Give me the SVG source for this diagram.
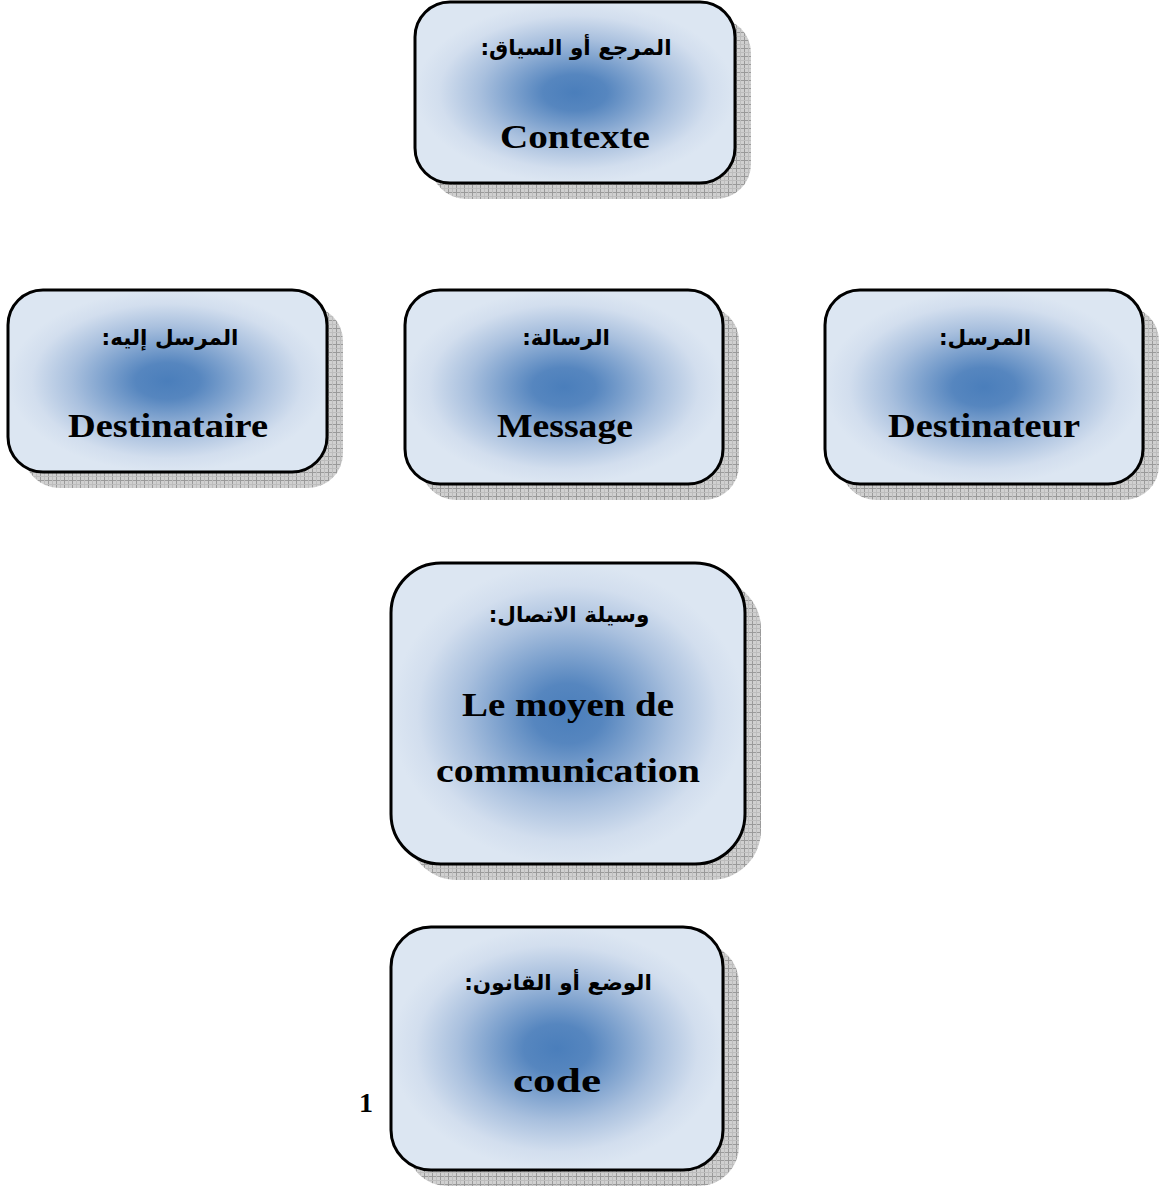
<svg xmlns="http://www.w3.org/2000/svg" width="1162" height="1187" viewBox="0 0 1162 1187">
<defs>
<pattern id="grid" width="8" height="8" patternUnits="userSpaceOnUse">
<rect width="8" height="8" fill="#d0d0d0"/>
<path d="M0 0.5H8M0.5 0V8" stroke="#9a9a9a" stroke-width="1"/>
<path d="M0 4.5H8M4.5 0V8" stroke="#bdbdbd" stroke-width="1"/>
</pattern>
<radialGradient id="fill" cx="0.5" cy="0.5" r="0.5">
<stop offset="0" stop-color="#4a7ebb"/>
<stop offset="0.2" stop-color="#5686bf"/>
<stop offset="0.6" stop-color="#a9c0de"/>
<stop offset="0.85" stop-color="#d2deee"/>
<stop offset="1" stop-color="#dce6f2"/>
</radialGradient>
</defs>
<style>
.sh{fill:url(#grid)}
.bx{fill:url(#fill);stroke:#000;stroke-width:3}
.ar{font-family:"DejaVu Sans",sans-serif;font-weight:bold;font-size:21.5px;fill:#000;text-anchor:middle}
.la{font-family:"Liberation Serif",serif;font-weight:bold;font-size:34px;fill:#000;text-anchor:middle}
</style>
<rect width="1162" height="1187" fill="#fff"/>
<g id="contexte">
<rect class="sh" x="431" y="18" width="320" height="181" rx="35"/>
<rect class="bx" x="415" y="2" width="320" height="181" rx="35"/>
<text class="ar" x="576" y="55" direction="rtl">المرجع أو السياق:</text>
<text class="la" x="575" y="148" textLength="150" lengthAdjust="spacingAndGlyphs">Contexte</text>
</g>
<g id="destinataire">
<rect class="sh" x="24" y="306" width="319" height="182" rx="35"/>
<rect class="bx" x="8" y="290" width="319" height="182" rx="35"/>
<text class="ar" x="170" y="345" direction="rtl">المرسل إليه:</text>
<text class="la" x="168" y="437" textLength="200" lengthAdjust="spacingAndGlyphs">Destinataire</text>
</g>
<g id="message">
<rect class="sh" x="421" y="306" width="318" height="194" rx="35"/>
<rect class="bx" x="405" y="290" width="318" height="194" rx="35"/>
<text class="ar" x="566" y="345" direction="rtl">الرسالة:</text>
<text class="la" x="565" y="437" textLength="136" lengthAdjust="spacingAndGlyphs">Message</text>
</g>
<g id="destinateur">
<rect class="sh" x="841" y="306" width="318" height="194" rx="35"/>
<rect class="bx" x="825" y="290" width="318" height="194" rx="35"/>
<text class="ar" x="985" y="345" direction="rtl">المرسل:</text>
<text class="la" x="984" y="437" textLength="192" lengthAdjust="spacingAndGlyphs">Destinateur</text>
</g>
<g id="moyen">
<rect class="sh" x="407" y="579" width="354" height="301" rx="50"/>
<rect class="bx" x="391" y="563" width="354" height="301" rx="50"/>
<text class="ar" x="569" y="622" direction="rtl">وسيلة الاتصال:</text>
<text class="la" x="568" y="716" textLength="212" lengthAdjust="spacingAndGlyphs">Le moyen de</text>
<text class="la" x="568" y="782" textLength="264" lengthAdjust="spacingAndGlyphs">communication</text>
</g>
<g id="code">
<rect class="sh" x="407" y="943" width="332" height="243" rx="40"/>
<rect class="bx" x="391" y="927" width="332" height="243" rx="40"/>
<text class="ar" x="558" y="990" direction="rtl">الوضع أو القانون:</text>
<text class="la" x="557" y="1092" textLength="88" lengthAdjust="spacingAndGlyphs">code</text>
</g>
<g id="connectors"/>
<text x="366" y="1112" font-family="Liberation Serif,serif" font-weight="bold" font-size="28" text-anchor="middle">1</text>
</svg>
